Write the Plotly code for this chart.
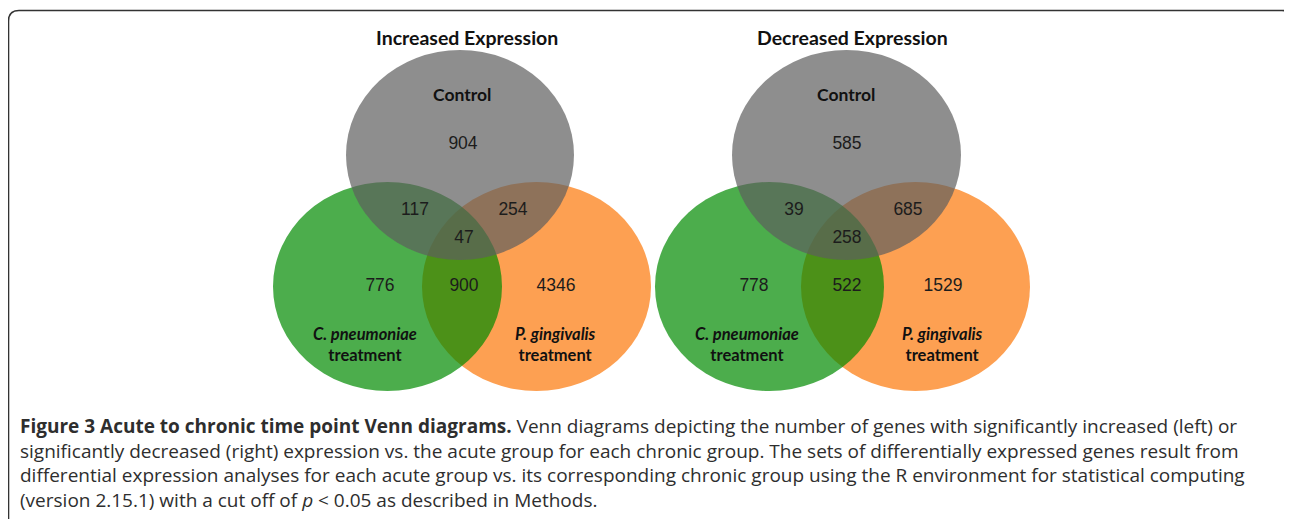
import plotly.graph_objects as go

# ---- data ----
panel_titles = ["Increased Expression", "Decreased Expression"]
set_names = ["Control", "C. pneumoniae", "P. gingivalis"]
# region order: Control only, Control&Cp, Control&Pg, all three, Cp only, Cp&Pg, Pg only
region_names = ["Control", "Control∩Cp", "Control∩Pg", "All", "Cp", "Cp∩Pg", "Pg"]
increased_counts = [904, 117, 254, 47, 776, 900, 4346]
decreased_counts = [585, 39, 685, 258, 778, 522, 1529]

caption_lines = [
    "<b>Figure 3 Acute to chronic time point Venn diagrams.</b> Venn diagrams depicting the number of genes with significantly increased (left) or",
    "significantly decreased (right) expression vs. the acute group for each chronic group. The sets of differentially expressed genes result from",
    "differential expression analyses for each acute group vs. its corresponding chronic group using the R environment for statistical computing",
    "(version 2.15.1) with a cut off of <i>p</i> &lt; 0.05 as described in Methods.",
]

# ---- layout (pixel geometry, page coordinates) ----
W, H = 1292, 519
PAGE_MARGIN = 8  # default body margin of the html page
panels = [
    dict(title_xy=(467, 37),
         gray=(346, 574, 50, 260), green=(273, 502, 182, 391), orange=(422, 651, 182, 391),
         ctrl_xy=(462, 94), cp_xy=(365, 333), pg_xy=(555, 333),
         region_xy=[(463, 145), (415, 211), (513, 211), (464, 239), (380, 287), (464, 287), (556, 287)],
         counts=increased_counts),
    dict(title_xy=(852, 37),
         gray=(732, 961, 50, 260), green=(655, 884, 182, 391), orange=(801, 1030, 182, 391),
         ctrl_xy=(846, 94), cp_xy=(747, 333), pg_xy=(942, 333),
         region_xy=[(847, 145), (794, 211), (908, 211), (847, 239), (754, 287), (847, 287), (943, 287)],
         counts=decreased_counts),
]

fig = go.Figure()
shapes = []
annotations = []

for i, p in enumerate(panels):
    x0, x1, y0, y1 = p["orange"]
    shapes.append(dict(type="circle", xref="x", yref="y", x0=x0, x1=x1, y0=y0, y1=y1,
                       fillcolor="rgb(253,160,82)", opacity=1, line_width=0, layer="below"))
    x0, x1, y0, y1 = p["green"]
    shapes.append(dict(type="circle", xref="x", yref="y", x0=x0, x1=x1, y0=y0, y1=y1,
                       fillcolor="rgb(0,138,0)", opacity=0.7, line_width=0, layer="below"))
    x0, x1, y0, y1 = p["gray"]
    shapes.append(dict(type="circle", xref="x", yref="y", x0=x0, x1=x1, y0=y0, y1=y1,
                       fillcolor="rgb(94,94,94)", opacity=0.7, line_width=0, layer="below"))

    fig.add_trace(go.Scatter(
        x=[xy[0] for xy in p["region_xy"]], y=[xy[1] for xy in p["region_xy"]],
        mode="text", text=[str(c) for c in p["counts"]],
        textfont=dict(family="Liberation Sans, Arial", size=17.5, color="#1c1c1c"),
        hoverinfo="skip", showlegend=False))

    tx, ty = p["title_xy"]
    annotations.append(dict(x=tx, y=ty, xref="x", yref="y", text="<b>" + panel_titles[i] + "</b>",
                            showarrow=False, font=dict(family="Lato", size=19.5, color="#111")))
    cx, cy = p["ctrl_xy"]
    annotations.append(dict(x=cx, y=cy, xref="x", yref="y", text="<b>" + set_names[0] + "</b>",
                            showarrow=False, font=dict(family="Lato", size=17.5, color="#111")))
    for key, nm in (("cp_xy", set_names[1]), ("pg_xy", set_names[2])):
        lx, ly = p[key]
        annotations.append(dict(x=lx, y=ly, xref="x", yref="y",
                                text="<b><i>" + nm + "</i></b><br><b>treatment</b>",
                                showarrow=False, yanchor="top", yshift=11,
                                font=dict(family="Lato", size=16.5, color="#111")))

# caption as a single multi-line block
annotations.append(dict(x=18, y=411, xref="x", yref="y", text="<br>".join(caption_lines),
                        xanchor="left", yanchor="top", align="left", showarrow=False,
                        font=dict(family="Open Sans", size=19.0, color="#2e2e2e")))

# frame
shapes.append(dict(type="path", xref="x", yref="y",
                   path="M 8.5,560 L 8.5,21 Q 8.5,10.5 19,10.5 L 1282,10.5 Q 1293,10.5 1293,21 L 1293,560",
                   line=dict(color="#333", width=1.6)))

fig.update_layout(
    width=W - PAGE_MARGIN, height=H - PAGE_MARGIN, margin=dict(l=0, r=0, t=0, b=0),
    paper_bgcolor="white", plot_bgcolor="white",
    xaxis=dict(range=[PAGE_MARGIN, W], visible=False, fixedrange=True),
    yaxis=dict(range=[H, PAGE_MARGIN], visible=False, fixedrange=True),
    shapes=shapes, annotations=annotations, showlegend=False,
)

fig.write_html("out.html")
